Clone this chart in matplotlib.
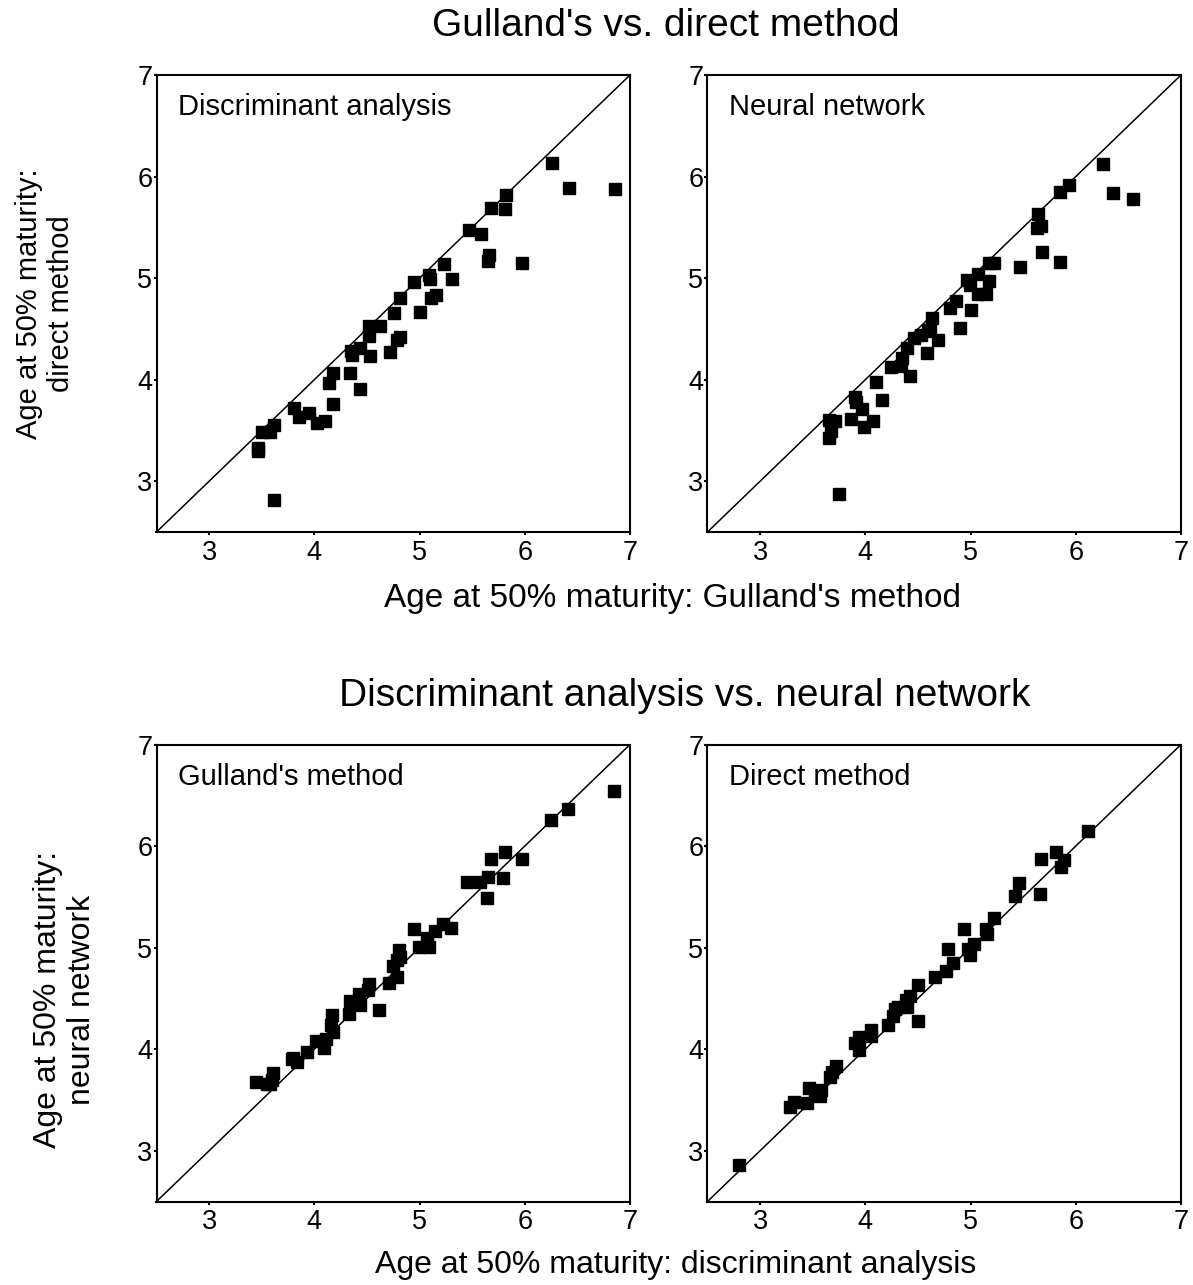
import matplotlib
matplotlib.use("Agg")
import matplotlib.pyplot as plt

plt.rcParams['font.family'] = ['Liberation Sans', 'DejaVu Sans']

# Panel A: Gulland's (x) vs direct (y), discriminant analysis
da_gulland = [6.26, 6.42, 6.86, 5.82, 5.81, 5.68, 5.47, 5.58, 5.66, 5.65, 5.97, 5.23,
              5.09, 5.10, 5.31, 4.95, 4.81, 5.16, 5.11, 4.76, 5.00, 4.81, 4.79, 4.62,
              4.52, 4.52, 4.72, 4.53, 4.43, 4.35, 4.36, 4.18, 4.14, 4.34, 4.43, 4.18,
              3.81, 3.85, 3.95, 4.03, 4.10, 3.62, 3.58, 3.50, 3.46, 3.46, 3.62]
da_direct = [6.13, 5.89, 5.88, 5.82, 5.68, 5.69, 5.47, 5.43, 5.23, 5.17, 5.15, 5.14,
             5.03, 4.99, 4.99, 4.96, 4.80, 4.83, 4.80, 4.66, 4.67, 4.42, 4.39, 4.53,
             4.53, 4.43, 4.27, 4.23, 4.31, 4.28, 4.24, 4.07, 3.97, 4.07, 3.91, 3.76,
             3.72, 3.63, 3.67, 3.57, 3.59, 3.55, 3.48, 3.48, 3.33, 3.30, 2.82]

# Panel B: Gulland's (x) vs direct (y), neural network
nn_gulland = [6.26, 5.94, 5.85, 6.35, 6.54, 5.64, 5.63, 5.67, 5.68, 5.85, 5.47, 5.18,
              5.22, 5.18, 5.07, 4.97, 4.99, 5.07, 5.15, 4.86, 4.80, 5.00, 4.63, 4.60,
              4.61, 4.69, 4.53, 4.46, 4.59, 4.90, 4.40, 4.35, 4.34, 4.24, 4.42, 4.10,
              4.16, 3.90, 3.91, 3.97, 3.86, 3.99, 4.07, 3.65, 3.71, 3.67, 3.65, 3.75]
nn_direct = [6.12, 5.92, 5.85, 5.84, 5.78, 5.63, 5.49, 5.51, 5.26, 5.16, 5.11, 5.15,
             5.15, 4.97, 5.04, 4.98, 4.93, 4.84, 4.84, 4.77, 4.71, 4.69, 4.61, 4.49,
             4.48, 4.39, 4.44, 4.41, 4.26, 4.51, 4.31, 4.21, 4.13, 4.12, 4.04, 3.98,
             3.80, 3.83, 3.78, 3.71, 3.61, 3.53, 3.59, 3.60, 3.59, 3.49, 3.43, 2.87]

# Panel C: Gulland's method, discriminant analysis (x) vs neural network (y)
g_da = [6.85, 6.41, 6.25, 5.81, 5.68, 5.97, 5.45, 5.57, 5.65, 5.79, 5.64, 4.95,
        5.22, 5.30, 5.15, 5.07, 4.99, 5.09, 4.80, 4.81, 4.79, 4.75, 4.79, 4.71,
        4.52, 4.51, 4.42, 4.34, 4.43, 4.33, 4.61, 4.17, 4.16, 4.18, 4.02, 4.11,
        4.09, 3.93, 3.80, 3.84, 3.79, 3.61, 3.60, 3.55, 3.45, 3.58]
g_nn = [6.54, 6.36, 6.26, 5.94, 5.87, 5.87, 5.65, 5.65, 5.70, 5.69, 5.49, 5.18,
        5.23, 5.19, 5.16, 5.09, 5.01, 5.01, 4.98, 4.91, 4.88, 4.82, 4.71, 4.65,
        4.64, 4.58, 4.54, 4.47, 4.43, 4.35, 4.39, 4.34, 4.24, 4.17, 4.08, 4.10,
        4.01, 3.97, 3.91, 3.87, 3.90, 3.77, 3.70, 3.66, 3.68, 3.66]

# Panel D: direct method, discriminant analysis (x) vs neural network (y)
d_da = [6.12, 5.81, 5.67, 5.89, 5.86, 5.46, 5.42, 5.66, 5.22, 5.15, 5.16, 4.94,
        5.03, 4.98, 4.99, 4.79, 4.83, 4.77, 4.66, 4.50, 4.50, 4.42, 4.39, 4.40,
        4.31, 4.28, 4.26, 4.22, 4.05, 4.05, 3.94, 3.90, 3.94, 3.72, 3.68, 3.66,
        3.58, 3.57, 3.46, 3.45, 3.32, 3.28, 2.80, 3.52]
d_nn = [6.15, 5.94, 5.87, 5.86, 5.79, 5.64, 5.51, 5.53, 5.29, 5.18, 5.13, 5.18,
        5.04, 4.99, 4.93, 4.99, 4.85, 4.77, 4.71, 4.63, 4.28, 4.52, 4.48, 4.42,
        4.42, 4.40, 4.33, 4.24, 4.19, 4.13, 4.12, 4.06, 3.99, 3.83, 3.78, 3.73,
        3.60, 3.54, 3.62, 3.47, 3.48, 3.43, 2.86, 3.58]

ticks = [3, 4, 5, 6, 7]
lims = [2.5, 7]

panels = [
    (da_gulland, da_direct, "Discriminant analysis"),
    (nn_gulland, nn_direct, "Neural network"),
    (g_da, g_nn, "Gulland's method"),
    (d_da, d_nn, "Direct method"),
]

W, H = 1193, 1285
fig = plt.figure(figsize=(W / 100, H / 100), dpi=100)

def rect(l, t, r, b):
    return [l / W, 1 - b / H, (r - l) / W, (b - t) / H]

rects = [rect(156.5, 75, 630, 532), rect(707.5, 75, 1181, 532),
         rect(156.5, 744.5, 630, 1201.5), rect(707.5, 744.5, 1181, 1201.5)]

for (xs, ys, label), r in zip(panels, rects):
    ax = fig.add_axes(r)
    ax.plot(lims, lims, color='black', lw=1.1, zorder=2)
    ax.plot(xs, ys, 's', color='black', markersize=8.5, zorder=3, clip_on=False)
    ax.set_xlim(lims)
    ax.set_ylim(lims)
    ax.set_xticks(ticks)
    ax.set_yticks(ticks)
    ax.tick_params(direction='out', length=2.5, width=1.5, labelsize=19.5, pad=3)
    ax.tick_params(axis='y', pad=0.5)
    for s in ax.spines.values():
        s.set_linewidth(1.5)
    ax.text(0.045, 0.912, label, transform=ax.transAxes, fontsize=21, ha='left',
            va='baseline')

fig.text(666 / W, 1 - 36 / H, "Gulland's vs. direct method", fontsize=28,
         ha='center', va='baseline')
fig.text(685 / W, 1 - 706 / H, "Discriminant analysis vs. neural network", fontsize=28,
         ha='center', va='baseline')
fig.text(672 / W, 1 - 598 / H, "Age at 50% maturity: Gulland's method", fontsize=24,
         ha='center', va='center')
fig.text(676 / W, 1 - 1265 / H, "Age at 50% maturity: discriminant analysis", fontsize=23,
         ha='center', va='center')
fig.text(45 / W, 1 - 303.5 / H, "Age at 50% maturity:\ndirect method", fontsize=21,
         ha='center', va='center', rotation=90, multialignment='center', linespacing=1.15)
fig.text(65 / W, 1 - 1000 / H, "Age at 50% maturity:\nneural network", fontsize=23,
         ha='center', va='center', rotation=90, multialignment='center', linespacing=1.15)

fig.savefig("out.png", dpi=100, facecolor='white')
